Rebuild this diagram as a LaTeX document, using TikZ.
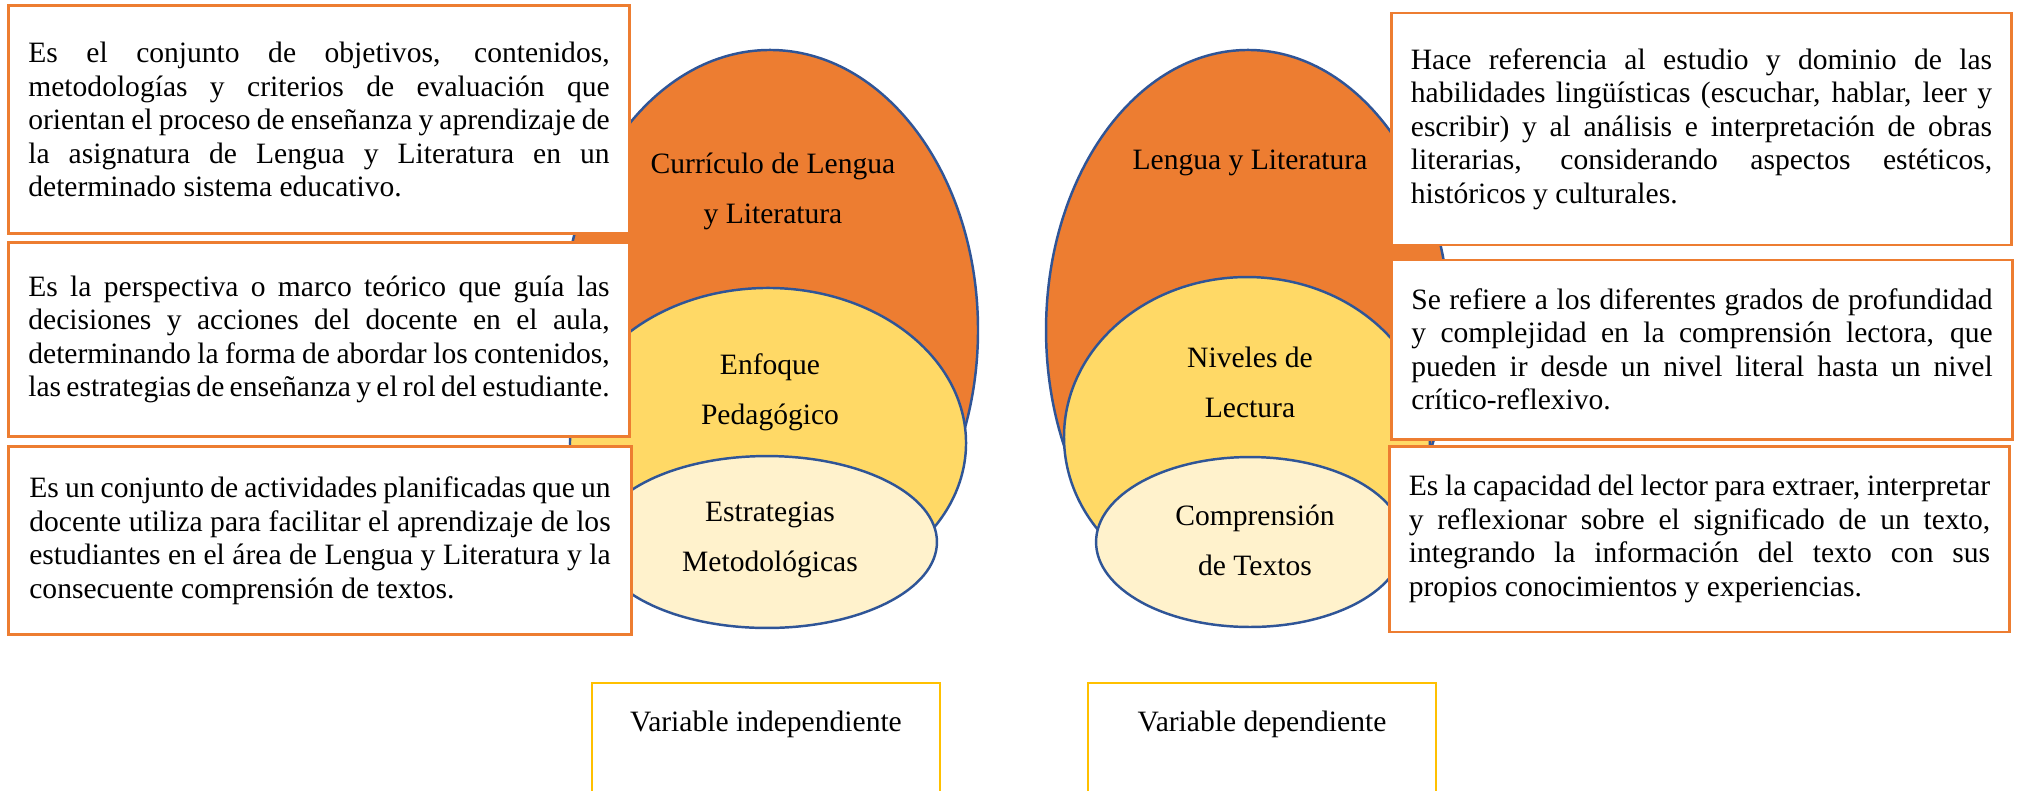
\documentclass[tikz,border=0pt]{standalone}
\usepackage{fontspec}
\setmainfont{Liberation Serif}
\usetikzlibrary{shapes.geometric}
\definecolor{naranja}{HTML}{ED7D31}
\definecolor{amarillo}{HTML}{FFD966}
\definecolor{crema}{HTML}{FFF2CC}
\definecolor{borde}{HTML}{2F5597}
\definecolor{dorado}{HTML}{FFC000}
\begin{document}
\begin{tikzpicture}[x=0.406pt, y=-0.406pt, font=\fontsize{12}{13.6}\selectfont,
  ovalo/.style={ellipse, draw=borde, line width=1pt, inner sep=0pt},
  caja/.style={draw=naranja, line width=1.2pt, fill=white, text width=236pt, align=justify, inner xsep=8pt},
  rotulo/.style={align=center, font=\fontsize{12}{20.3}\selectfont},
  varcaja/.style={draw=dorado, line width=1pt, anchor=north, minimum width=141.3pt, inner ysep=0pt, text height=19.5pt, text depth=50pt}]
\useasboundingbox (0,0) rectangle (2018,790);
\clip (0,0) rectangle (2018,790);
%ellipses left
\node[ovalo, fill=naranja, minimum width=168.9pt, minimum height=227.4pt] (curriculo) at (770,330) {};
\node[ovalo, fill=amarillo, minimum width=160.8pt, minimum height=125.9pt] (enfoque) at (768,443) {};
\node[ovalo, fill=crema, minimum width=138pt, minimum height=69.8pt] (estrategias) at (767,542) {};
%ellipses right
\node[ovalo, fill=naranja, minimum width=164pt, minimum height=227.4pt] (lengua) at (1248,330) {};
\node[ovalo, fill=amarillo, minimum width=148.6pt, minimum height=129.9pt] (niveles) at (1247,437) {};
\node[ovalo, fill=crema, minimum width=125pt, minimum height=69pt] (comprension) at (1250,542) {};
%labels
\node[rotulo] (t curriculo) at (773,191) {Currículo de Lengua\\y Literatura};
\node[rotulo] (t enfoque) at (770,392) {Enfoque\\Pedagógico};
\node[rotulo] (t estrategias) at (770,540) {Estrategias\\Metodológicas};
\node[rotulo] (t lengua) at (1250,163) {Lengua y Literatura};
\node[rotulo] (t niveles) at (1250,382) {Niveles de\\Lectura};
\node[rotulo] (t comprension) at (1255,540) {Comprensión\\de Textos};
%boxes left
\node[caja, minimum width=252.5pt, minimum height=92.2pt] (def curriculo) at (319,119.5)
{Es el conjunto de objetivos, contenidos,\linebreak metodologías y criterios de evaluación que\linebreak orientan el proceso de enseñanza y aprendizaje de\linebreak la asignatura de Lengua y Literatura en un\linebreak determinado sistema educativo.};
\node[caja, minimum width=252.5pt, minimum height=78.4pt] (def enfoque) at (319,339.5)
{Es la perspectiva o marco teórico que guía las\linebreak decisiones y acciones del docente en el aula,\linebreak determinando la forma de abordar los contenidos,\linebreak las estrategias de enseñanza y el rol del estudiante.};
\node[caja, minimum width=253.3pt, minimum height=76.7pt] (def estrategias) at (320,540.5)
{Es un conjunto de actividades planificadas que un\linebreak docente utiliza para facilitar el aprendizaje de los\linebreak estudiantes en el área de Lengua y Literatura y la\linebreak consecuente comprensión de textos.};
%boxes right
\node[caja, minimum width=250.5pt, minimum height=94.2pt] (def lengua) at (1701.5,129)
{Hace referencia al estudio y dominio de las\linebreak habilidades lingüísticas (escuchar, hablar, leer y\linebreak escribir) y al análisis e interpretación de obras\linebreak literarias, considerando aspectos estéticos,\linebreak históricos y culturales.};
\node[caja, minimum width=250.9pt, minimum height=72.7pt] (def niveles) at (1702,349.5)
{Se refiere a los diferentes grados de profundidad\linebreak y complejidad en la comprensión lectora, que\linebreak pueden ir desde un nivel literal hasta un nivel\linebreak crítico-reflexivo.};
\node[caja, minimum width=251.3pt, minimum height=75.5pt] (def comprension) at (1699.5,539)
{Es la capacidad del lector para extraer, interpretar\linebreak y reflexionar sobre el significado de un texto,\linebreak integrando la información del texto con sus\linebreak propios conocimientos y experiencias.};
%variables
\node[varcaja] (independiente) at (766,682) {Variable independiente};
\node[varcaja] (dependiente) at (1262,682) {Variable dependiente};
\end{tikzpicture}
\end{document}
